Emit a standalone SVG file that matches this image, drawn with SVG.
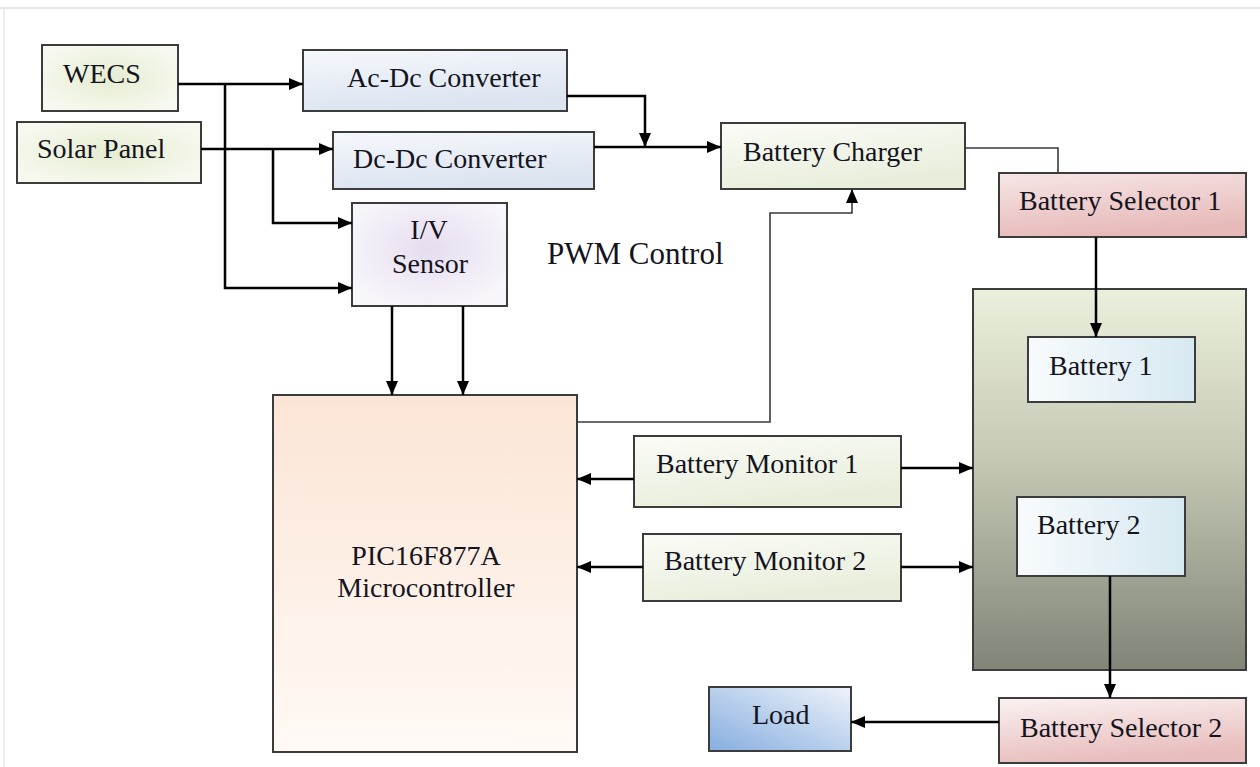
<svg xmlns="http://www.w3.org/2000/svg" width="1260" height="767" viewBox="0 0 1260 767">
<defs>
<style>
.box{stroke:#3c3c3c;stroke-width:2}
.t{font-family:"Liberation Serif","Times New Roman",serif;font-size:28px;fill:#14141e}
.c{fill:none;stroke:#000;stroke-width:2.5}
.thin{fill:none;stroke:#3a3a3a;stroke-width:1.6}
</style>
<marker id="ah" markerUnits="userSpaceOnUse" markerWidth="14" markerHeight="12" refX="14" refY="6" orient="auto">
<path d="M0,0 L14,6 L0,12 z" fill="#000"/>
</marker>
<radialGradient id="gGreenR" cx="0.5" cy="0.5" r="0.6">
<stop offset="0" stop-color="#e6edd1"/>
<stop offset="1" stop-color="#f7f9f0"/>
</radialGradient>
<linearGradient id="gBlue" x1="0" y1="0" x2="0.3" y2="1">
<stop offset="0" stop-color="#f6f8fc"/>
<stop offset="1" stop-color="#dbe4f0"/>
</linearGradient>
<linearGradient id="gGreenL" x1="0" y1="0" x2="0.4" y2="1">
<stop offset="0" stop-color="#fbfcf7"/>
<stop offset="1" stop-color="#e8eedb"/>
</linearGradient>
<linearGradient id="gPink1" x1="0" y1="0" x2="0.3" y2="1">
<stop offset="0" stop-color="#f7e6e6"/>
<stop offset="1" stop-color="#e7baba"/>
</linearGradient>
<linearGradient id="gPink2" x1="0" y1="0" x2="0.3" y2="1">
<stop offset="0" stop-color="#fbf2f2"/>
<stop offset="1" stop-color="#e8bdbd"/>
</linearGradient>
<radialGradient id="gLav" cx="0.5" cy="0.45" r="0.6">
<stop offset="0" stop-color="#e6ddef"/>
<stop offset="1" stop-color="#f8f6fb"/>
</radialGradient>
<linearGradient id="gPeach" x1="0" y1="0" x2="0" y2="1">
<stop offset="0" stop-color="#fbe5d6"/>
<stop offset="1" stop-color="#fff9f5"/>
</linearGradient>
<linearGradient id="gGroup" x1="0" y1="0" x2="0" y2="1">
<stop offset="0" stop-color="#ebf0dc"/>
<stop offset="0.45" stop-color="#c4c8b4"/>
<stop offset="1" stop-color="#808578"/>
</linearGradient>
<linearGradient id="gBat" x1="0" y1="0" x2="1" y2="0">
<stop offset="0" stop-color="#f8fbfd"/>
<stop offset="1" stop-color="#d7e9f1"/>
</linearGradient>
<linearGradient id="gLoad" x1="0" y1="1" x2="1" y2="0">
<stop offset="0" stop-color="#86aee0"/>
<stop offset="1" stop-color="#eef3fa"/>
</linearGradient>
</defs>
<rect width="1260" height="767" fill="#fff"/>
<line x1="0" y1="8" x2="1260" y2="8" stroke="#e6e6e6" stroke-width="2"/>
<line x1="4" y1="9" x2="4" y2="767" stroke="#efefef" stroke-width="2"/>

<g id="wecs"><rect class="box" x="42" y="45" width="136" height="66" fill="url(#gGreenR)"/><text class="t" x="63" y="83">WECS</text></g>
<g id="solar"><rect class="box" x="17" y="122" width="184" height="61" fill="url(#gGreenR)"/><text class="t" x="37" y="158">Solar Panel</text></g>
<g id="acdc"><rect class="box" x="303" y="50" width="264" height="61" fill="url(#gBlue)"/><text class="t" x="347" y="87">Ac-Dc Converter</text></g>
<g id="dcdc"><rect class="box" x="333" y="132" width="261" height="57" fill="url(#gBlue)"/><text class="t" x="353" y="168">Dc-Dc Converter</text></g>
<g id="charger"><rect class="box" x="721" y="123" width="244" height="66" fill="url(#gGreenL)"/><text class="t" x="743" y="161">Battery Charger</text></g>
<g id="sel1"><rect class="box" x="999" y="173" width="247" height="64" fill="url(#gPink1)"/><text class="t" x="1019" y="210">Battery Selector 1</text></g>
<g id="ivsensor"><rect class="box" x="352" y="203" width="155" height="103" fill="url(#gLav)"/><text class="t" x="429" y="239" text-anchor="middle">I/V</text><text class="t" x="430" y="273" text-anchor="middle">Sensor</text></g>
<g id="pwm"><text class="t" x="547" y="264" style="font-size:31px">PWM Control</text></g>
<g id="batteries"><rect class="box" x="973" y="289" width="273" height="381" fill="url(#gGroup)"/></g>
<g id="bat1"><rect class="box" x="1028" y="337" width="167" height="65" fill="url(#gBat)"/><text class="t" x="1049" y="375">Battery 1</text></g>
<g id="bat2"><rect class="box" x="1017" y="497" width="168" height="79" fill="url(#gBat)"/><text class="t" x="1037" y="534">Battery 2</text></g>
<g id="mcu"><rect class="box" x="273" y="395" width="304" height="357" fill="url(#gPeach)"/><text class="t" x="426" y="565" text-anchor="middle">PIC16F877A</text><text class="t" x="426" y="597" text-anchor="middle">Microcontroller</text></g>
<g id="mon1"><rect class="box" x="634" y="436" width="267" height="71" fill="url(#gGreenL)"/><text class="t" x="656" y="473">Battery Monitor 1</text></g>
<g id="mon2"><rect class="box" x="643" y="534" width="258" height="67" fill="url(#gGreenL)"/><text class="t" x="664" y="570">Battery Monitor 2</text></g>
<g id="load"><rect class="box" x="709" y="687" width="142" height="64" fill="url(#gLoad)"/><text class="t" x="752" y="724">Load</text></g>
<g id="sel2"><rect class="box" x="999" y="698" width="247" height="65" fill="url(#gPink2)"/><text class="t" x="1020" y="737">Battery Selector 2</text></g>

<g id="connectors">
<path class="c" d="M178,84 H303" marker-end="url(#ah)"/>
<path class="c" d="M225,84 V288 H352" marker-end="url(#ah)"/>
<path class="c" d="M201,149 H333" marker-end="url(#ah)"/>
<path class="c" d="M273,149 V223 H352" marker-end="url(#ah)"/>
<path class="c" d="M567,96 H645 V147" marker-end="url(#ah)"/>
<path class="c" d="M594,147 H721" marker-end="url(#ah)"/>
<path class="thin" d="M965,148 H1058 V173"/>
<path class="c" d="M1096,237 V337" marker-end="url(#ah)"/>
<path class="c" d="M392,306 V395" marker-end="url(#ah)"/>
<path class="c" d="M463,306 V395" marker-end="url(#ah)"/>
<path class="thin" d="M577,422 H770 V213 H852 V189" marker-end="url(#ah)"/>
<path class="c" d="M634,479 H577" marker-end="url(#ah)"/>
<path class="c" d="M901,468 H973" marker-end="url(#ah)"/>
<path class="c" d="M643,567 H577" marker-end="url(#ah)"/>
<path class="c" d="M901,567 H973" marker-end="url(#ah)"/>
<path class="c" d="M1110,576 V698" marker-end="url(#ah)"/>
<path class="c" d="M999,722 H851" marker-end="url(#ah)"/>
</g>
</svg>
